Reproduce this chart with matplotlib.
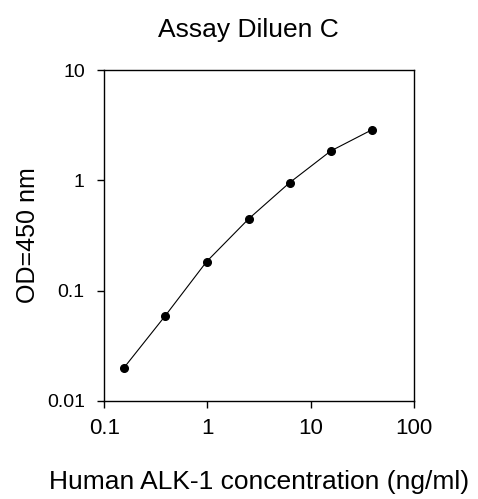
import matplotlib
matplotlib.use("Agg")
import matplotlib.pyplot as plt
from matplotlib.ticker import FixedLocator, FixedFormatter, NullLocator

# standard curve
conc = [0.156, 0.39, 0.98, 2.5, 6.25, 15.6, 39.0]
od = [0.020, 0.059, 0.183, 0.447, 0.955, 1.85, 2.88]

x_ticks = [0.1, 1, 10, 100]
x_labels = ["0.1", "1", "10", "100"]
y_ticks = [0.01, 0.1, 1, 10]
y_labels = ["0.01", "0.1", "1", "10"]

plt.rcParams['font.family'] = ['Liberation Sans', 'DejaVu Sans']

fig = plt.figure(figsize=(4.78, 4.99), dpi=100)
ax = fig.add_axes([0.218, 0.197, 0.648, 0.662])

ax.plot(conc, od, color="black", linewidth=0.8, marker="o", markersize=5.5)

ax.set_xscale("log")
ax.set_yscale("log")
ax.set_xlim(0.1, 100)
ax.set_ylim(0.01, 10)

ax.xaxis.set_major_locator(FixedLocator(x_ticks))
ax.xaxis.set_major_formatter(FixedFormatter(x_labels))
ax.yaxis.set_major_locator(FixedLocator(y_ticks))
ax.yaxis.set_major_formatter(FixedFormatter(y_labels))
ax.xaxis.set_minor_locator(NullLocator())
ax.yaxis.set_minor_locator(NullLocator())

ax.tick_params(axis="x", direction="out", length=5, width=1, pad=7.5, labelsize=16)
ax.tick_params(axis="y", direction="out", length=5, width=1, pad=9, labelsize=14)

for s in ax.spines.values():
    s.set_linewidth(1)

# title sits a little left of the axes centre in the reference
ax.set_title("Assay Diluen C", fontsize=19, pad=24, x=0.467)
ax.set_xlabel("Human ALK-1 concentration (ng/ml)", fontsize=19, labelpad=22)
ax.set_ylabel("OD=450 nm", fontsize=18, labelpad=5)

fig.savefig("out.png", dpi=100)
